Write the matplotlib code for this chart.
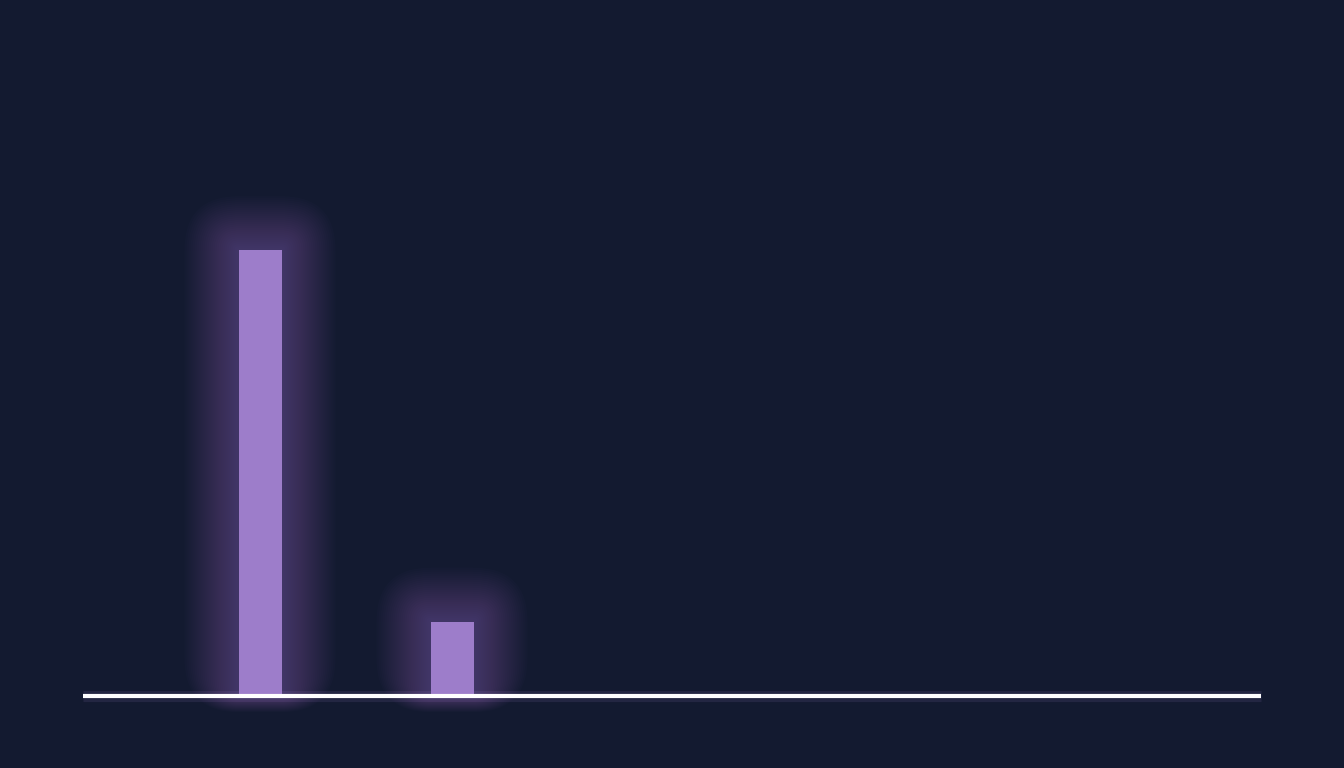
import matplotlib
matplotlib.use("Agg")
import matplotlib.pyplot as plt
from matplotlib.patches import FancyBboxPatch

categories = ["A", "B", "C", "D", "E", "F"]
values = [60, 10, 0, 0, 0, 0]

BG = "#131a30"
BAR = "#9d7dca"

fig = plt.figure(figsize=(13.44, 7.68), dpi=100, facecolor=BG)
ax = fig.add_axes([0, 0, 1, 1])
ax.set_facecolor(BG)

# pixel -> data scales (192 px per category, ~7.43 px per unit)
px_x = 1 / 192
px_y = 1 / 7.43
ax.set_xlim(-260 * px_x, (1344 - 260) * px_x)
ax.set_ylim(-72 * px_y, (768 - 72) * px_y)

width = 43 * px_x
xs = list(range(len(categories)))

# soft glow behind bars (stacked rounded boxes, in pixel units)
for x, v in zip(xs, values):
    if v <= 0:
        continue
    x0, y0 = ax.transData.transform((x - width / 2, 0))
    x1, y1 = ax.transData.transform((x + width / 2, v))
    for i in range(1, 28):
        pad = i * 2
        lift = pad * 0.7
        r = FancyBboxPatch((x0, y0 + lift), x1 - x0, y1 - y0 - lift,
                           boxstyle=f"round,pad={pad},rounding_size={pad}",
                           transform=None, facecolor=BAR, edgecolor="none",
                           alpha=0.02, zorder=1)
        ax.add_patch(r)

ax.bar(xs, values, width=width, color=BAR, zorder=3)

# baseline
ax.hlines(0, -177 * px_x, 1001 * px_x, color=BAR, lw=8, alpha=0.12, zorder=4)
ax.hlines(0, -177 * px_x, 1001 * px_x, color="white", lw=3, zorder=5)

ax.axis("off")
fig.savefig("out.png", dpi=100, facecolor=BG)
plt.close(fig)
